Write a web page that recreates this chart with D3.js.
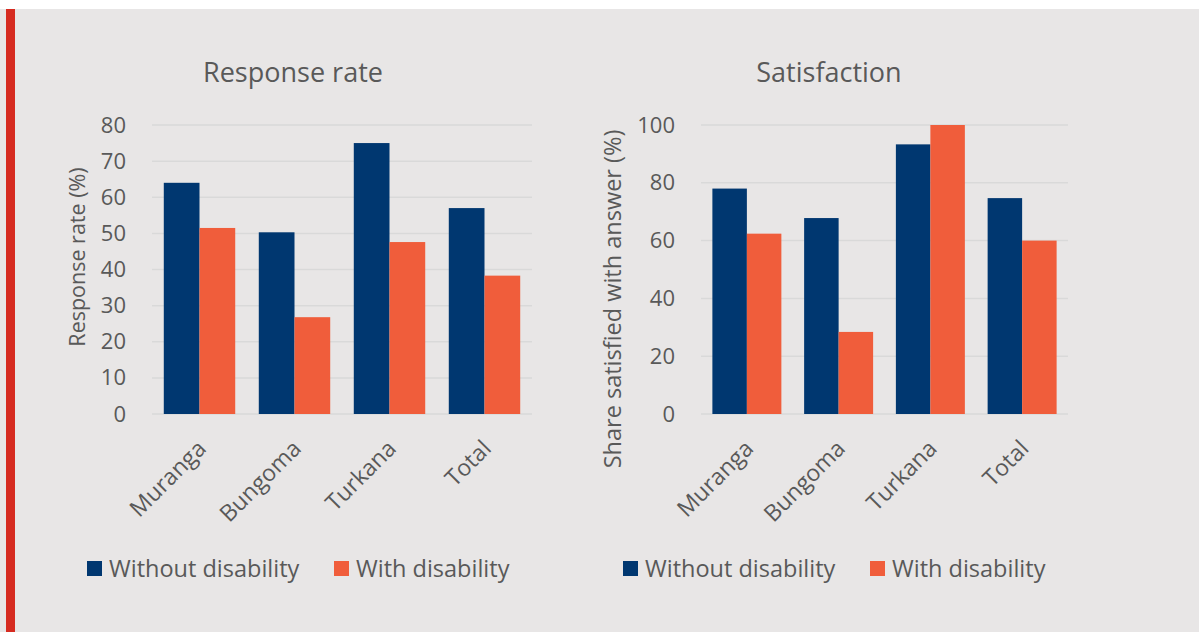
<!DOCTYPE html>
<html>
<head>
<meta charset="utf-8">
<script src="https://cdn.jsdelivr.net/npm/d3@7"></script>
<style>
  html, body { margin: 0; padding: 0; background: #ffffff; }
  svg { display: block; }
  text { font-family: "Open Sans", sans-serif; fill: #595959; }
</style>
</head>
<body>
<svg id="chart" width="1200" height="632"></svg>
<script>
// Districts shown on both panels
const categories = ["Muranga", "Bungoma", "Turkana", "Total"];
const seriesNames = ["Without disability", "With disability"];

// Response rate (%)
const responseWithout = [64, 50.3, 75, 57];
const responseWith = [51.5, 26.8, 47.6, 38.3];
const responseTicks = [0, 10, 20, 30, 40, 50, 60, 70, 80];

// Share satisfied with answer (%)
const satisfactionWithout = [78, 67.8, 93.3, 74.7];
const satisfactionWith = [62.4, 28.4, 100, 60];
const satisfactionTicks = [0, 20, 40, 60, 80, 100];

const colors = ["#003770", "#f05d3b"];
const FONT = "'Open Sans', sans-serif";

const svg = d3.select("#chart");

// background panel with red accent strip
svg.append("rect").attr("x", 0).attr("y", 9).attr("width", 1199).attr("height", 623).attr("fill", "#e8e6e6");
svg.append("rect").attr("x", 6).attr("y", 9).attr("width", 9).attr("height", 623).attr("fill", "#d62b20");

function drawPanel(cfg) {
  const g = svg.append("g");
  const x = d3.scaleBand().domain(categories).range([cfg.x0, cfg.x1]);
  const xs = d3.scaleBand().domain([0, 1]).range([0, x.bandwidth()]).paddingOuter(cfg.outer);
  const y = d3.scaleLinear().domain([0, cfg.max]).range([414, 125]);

  // gridlines
  g.selectAll("line.grid").data(cfg.ticks).join("line")
    .attr("x1", cfg.x0).attr("x2", cfg.x1)
    .attr("y1", d => y(d)).attr("y2", d => y(d))
    .attr("stroke", "#d9d9d9").attr("stroke-width", 1.5);

  // y tick labels
  const yAxis = d3.axisLeft(y).tickValues(cfg.ticks).tickSize(0).tickPadding(26);
  const ya = g.append("g").attr("transform", `translate(${cfg.x0},0)`).call(yAxis);
  ya.select(".domain").remove();
  ya.selectAll("text").attr("font-size", 22).attr("fill", "#595959")
    .style("font-family", FONT);

  // bars
  const series = [cfg.without, cfg.with];
  series.forEach((vals, si) => {
    g.selectAll(null).data(vals).join("rect")
      .attr("x", (d, i) => x(categories[i]) + xs(si))
      .attr("width", xs.bandwidth())
      .attr("y", d => y(d))
      .attr("height", d => y(0) - y(d))
      .attr("fill", colors[si]);
  });

  // x category labels, rotated
  const xAxis = d3.axisBottom(x).tickSize(0).tickPadding(0);
  const xa = g.append("g").attr("transform", "translate(0,414)").call(xAxis);
  xa.select(".domain").remove();
  xa.selectAll("text")
    .attr("font-size", 23).attr("fill", "#595959")
    .style("font-family", FONT)
    .attr("text-anchor", "end")
    .attr("dy", null)
    .attr("transform", "translate(8,36) rotate(-45)");

  // title
  g.append("text").attr("x", cfg.titleX).attr("y", 82)
    .attr("text-anchor", "middle").attr("font-size", 27).text(cfg.title);

  // y axis title
  g.append("text")
    .attr("transform", `translate(${cfg.yTitleX},${cfg.yTitleY}) rotate(-90)`)
    .attr("text-anchor", "middle").attr("font-size", cfg.yTitleSize).text(cfg.yTitle);

  // legend
  const lg = g.append("g").attr("transform", `translate(${cfg.legendX},0)`);
  const offsets = [0, cfg.legendGap];
  seriesNames.forEach((name, i) => {
    lg.append("rect").attr("x", offsets[i]).attr("y", 561).attr("width", 15).attr("height", 15).attr("fill", colors[i]);
    lg.append("text").attr("x", offsets[i] + 22).attr("y", 577).attr("font-size", 23.5).text(name);
  });
}

drawPanel({
  x0: 152, x1: 532, max: 80, ticks: responseTicks, outer: 0.33,
  without: responseWithout, with: responseWith,
  title: "Response rate", titleX: 293,
  yTitle: "Response rate (%)", yTitleX: 85, yTitleY: 257, yTitleSize: 21.5,
  legendX: 87, legendGap: 247
});

drawPanel({
  x0: 701, x1: 1068, max: 100, ticks: satisfactionTicks, outer: 0.33,
  without: satisfactionWithout, with: satisfactionWith,
  title: "Satisfaction", titleX: 829,
  yTitle: "Share satisfied with answer (%)", yTitleX: 621, yTitleY: 299, yTitleSize: 23.5,
  legendX: 623, legendGap: 247
});
</script>
</body>
</html>
